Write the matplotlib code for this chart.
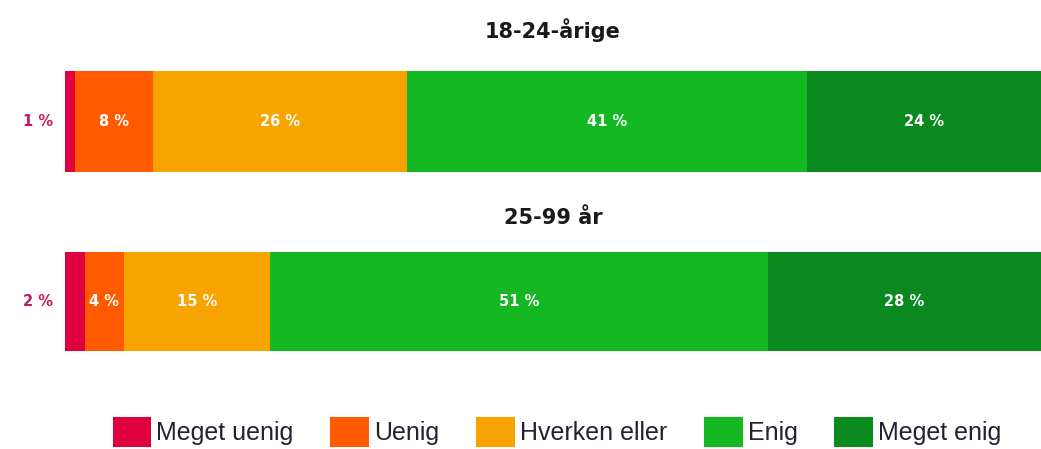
import matplotlib
matplotlib.use("Agg")
import matplotlib.pyplot as plt
from matplotlib.patches import Patch

groups = ["18-24-årige", "25-99 år"]
categories = ["Meget uenig", "Uenig", "Hverken eller", "Enig", "Meget enig"]
values = [
    [1, 8, 26, 41, 24],
    [2, 4, 15, 51, 28],
]
colors = ["#e0003f", "#ff5a00", "#f7a300", "#14b823", "#0a8a1e"]

fig = plt.figure(figsize=(10.41, 4.49), dpi=100)
ax = fig.add_axes([65 / 1041, 0, 976 / 1041, 1])
ax.set_xlim(0, 100)
ax.set_ylim(449, 0)
ax.axis("off")

bar_y = [121, 301]
bar_h = [101, 99]
title_y = [30, 218]

for g, vals, y, h, ty in zip(groups, values, bar_y, bar_h, title_y):
    left = 0
    for i, (v, c) in enumerate(zip(vals, colors)):
        ax.barh(y, v, left=left, height=h, color=c, edgecolor="none")
        if i == 0:
            ax.text(-1.2, y, f"{v} %", ha="right", va="center", color="#c01860",
                    fontsize=10.5, fontweight="bold")
        else:
            ax.text(left + v / 2, y, f"{v} %", ha="center", va="center", color="white",
                    fontsize=10.5, fontweight="bold")
        left += v
    ax.text(50, ty, g, ha="center", va="center", fontsize=15, fontweight="bold",
            color="#1a1a1a")

handles = [Patch(facecolor=c, edgecolor="none") for c in colors]
fig.legend(handles, categories, loc="lower center", bbox_to_anchor=(0.535, -0.045), ncol=5,
           frameon=False, prop={"family": "Liberation Sans", "size": 18},
           handlelength=1.55, handleheight=1.45, handletextpad=0.2, columnspacing=1.47,
           labelcolor="#222233")

fig.savefig("out.png", dpi=100)
